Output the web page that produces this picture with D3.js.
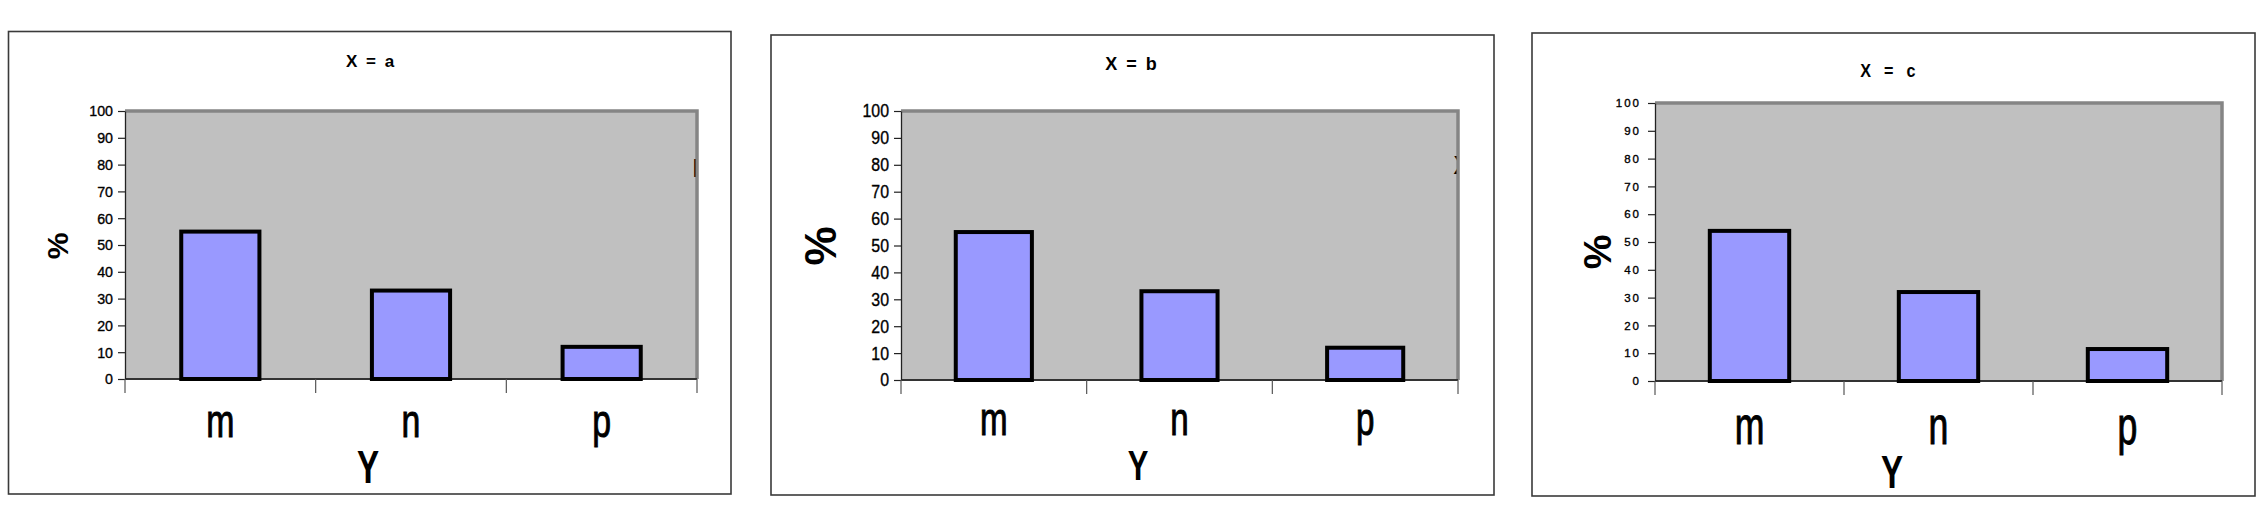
<!DOCTYPE html>
<html><head><meta charset="utf-8">
<script src="https://cdn.jsdelivr.net/npm/d3@7"></script>
<style>body{margin:0;background:#fff;} svg{display:block;}</style>
</head><body>
<svg id="chart" width="2264" height="531"></svg>
<script>
// ---- data ----
const categories = ["m", "n", "p"];
const panelTitles = ["X = a", "X = b", "X = c"];
const valuesA = [55, 33, 12];
const valuesB = [55, 33, 12];
const valuesC = [54, 32, 11.5];
const yTickValues = [0, 10, 20, 30, 40, 50, 60, 70, 80, 90, 100];
const yAxisTitle = "%";
const xAxisTitle = "Y";
const fragments = ["L", "X", null];
const seriesByPanel = [valuesA, valuesB, valuesC];

// ---- layout (positions / styles only) ----
const layouts = [
  {frame:[8.5,31.5,731,494], plot:[125,697,111,379], pad:0.59,
   title:{x:371,y:67,size:17,ls:2,sx:1},
   tick:{size:15.5,sx:0.92,ls:0},
   pct:{x:57,y:246,size:30},
   cat:{y:437,size:47,sx:0.72},
   ytitle:{x:368,y:483,size:46,sx:0.72}},
  {frame:[771,35,1494,495], plot:[901,1458,111,380], pad:0.59,
   title:{x:1132,y:70,size:18,ls:2,sx:1},
   tick:{size:18.5,sx:0.86,ls:0},
   pct:{x:820,y:246,size:44},
   cat:{y:435,size:46,sx:0.72},
   ytitle:{x:1138,y:480,size:43,sx:0.72}},
  {frame:[1532,33,2255,496], plot:[1655,2222,103,381], pad:0.58,
   title:{x:1890,y:77,size:19,ls:5,sx:0.85},
   tick:{size:11.5,sx:1,ls:2},
   pct:{x:1597,y:252,size:39},
   cat:{y:444,size:51,sx:0.7},
   ytitle:{x:1892,y:488,size:46,sx:0.72}}
];

const FONT = "'Liberation Sans', Arial, sans-serif";
const svg = d3.select("#chart");
svg.append("rect").attr("width",2264).attr("height",531).attr("fill","#fff");
const defs = svg.append("defs");

layouts.forEach((L, i) => {
  const g = svg.append("g");
  const [fx0, fy0, fx1, fy1] = L.frame;
  g.append("rect").attr("x", fx0).attr("y", fy0)
    .attr("width", fx1 - fx0).attr("height", fy1 - fy0)
    .attr("fill", "#fff").attr("stroke", "#3a3a3a").attr("stroke-width", 1.6);

  const [pl, pr, pt, pb] = L.plot;
  const x = d3.scaleBand().domain(categories).range([pl, pr])
    .paddingInner(L.pad).paddingOuter(L.pad / 2);
  const y = d3.scaleLinear().domain([0, 100]).range([pb, pt]);

  // plot area
  g.append("rect").attr("x", pl).attr("y", pt).attr("width", pr - pl).attr("height", pb - pt)
    .attr("fill", "#c0c0c0");
  g.append("path").attr("d", `M${pl},${pt}H${pr}V${pb}`)
    .attr("fill", "none").attr("stroke", "#858585").attr("stroke-width", 3.5);

  // clipped fragment of hidden text at right edge
  if (fragments[i]) {
    const cid = "clip" + i;
    defs.append("clipPath").attr("id", cid).append("rect")
      .attr("x", pr - 5).attr("y", pt).attr("width", 3.5).attr("height", pb - pt);
    g.append("text").attr("clip-path", `url(#${cid})`)
      .attr("x", pr - 4.5).attr("y", i === 0 ? 177 : 174)
      .attr("font-family", FONT).attr("font-weight", "bold").attr("font-size", 26)
      .attr("fill", "#000").text(fragments[i]);
  }

  // x axis line
  g.append("line").attr("x1", pl).attr("x2", pr).attr("y1", pb).attr("y2", pb)
    .attr("stroke", "#333").attr("stroke-width", 2);

  // bars
  g.selectAll("rect.bar")
    .data(categories.map((c, j) => ({c, v: seriesByPanel[i][j]})))
    .join("rect").attr("class", "bar")
    .attr("x", d => x(d.c)).attr("width", x.bandwidth())
    .attr("y", d => y(d.v)).attr("height", d => y(0) - y(d.v))
    .attr("fill", "#9999ff").attr("stroke", "#000").attr("stroke-width", 4);

  // y axis
  const ya = g.append("g").attr("transform", `translate(${pl},0)`)
    .call(d3.axisLeft(y).tickValues(yTickValues).tickSize(7).tickSizeOuter(0).tickPadding(5));
  ya.select(".domain").attr("stroke", "#222").attr("stroke-width", 1.3);
  ya.selectAll(".tick line").attr("stroke", "#222").attr("stroke-width", 1.2);
  ya.selectAll(".tick text")
    .attr("font-family", FONT).attr("font-size", L.tick.size).attr("fill", "#000")
    .attr("stroke", "#000").attr("stroke-width", 0.35)
    .attr("x", -(12 + L.tick.ls) / L.tick.sx)
    .attr("transform", `scale(${L.tick.sx},1)`)
    .style("letter-spacing", L.tick.ls + "px");

  // category separators
  const edges = d3.range(categories.length + 1).map(k => pl + k * x.step());
  g.selectAll("line.sep").data(edges).join("line").attr("class", "sep")
    .attr("x1", d => d).attr("x2", d => d).attr("y1", pb).attr("y2", pb + 14)
    .attr("stroke", "#555").attr("stroke-width", 1.2);

  // category labels
  g.selectAll("text.cat").data(categories).join("text").attr("class", "cat")
    .attr("transform", d => `translate(${x(d) + x.bandwidth() / 2},${L.cat.y}) scale(${L.cat.sx},1)`)
    .attr("text-anchor", "middle").attr("font-family", FONT)
    .attr("font-size", L.cat.size).attr("fill", "#000")
    .attr("stroke", "#000").attr("stroke-width", 1).text(d => d);

  // x axis title
  g.append("text")
    .attr("transform", `translate(${L.ytitle.x},${L.ytitle.y}) scale(${L.ytitle.sx},1)`)
    .attr("text-anchor", "middle").attr("font-family", FONT).attr("font-weight", "bold")
    .attr("font-size", L.ytitle.size).attr("fill", "#000").text(xAxisTitle);

  // y axis title
  g.append("text")
    .attr("transform", `translate(${L.pct.x},${L.pct.y}) rotate(-90)`)
    .attr("text-anchor", "middle").attr("dominant-baseline", "central")
    .attr("font-family", FONT).attr("font-weight", "bold")
    .attr("font-size", L.pct.size).attr("fill", "#000").text(yAxisTitle);

  // title
  g.append("text")
    .attr("transform", `translate(${L.title.x},${L.title.y}) scale(${L.title.sx},1)`)
    .attr("text-anchor", "middle").attr("font-family", FONT).attr("font-weight", "bold")
    .attr("font-size", L.title.size).attr("fill", "#000")
    .style("letter-spacing", L.title.ls + "px").text(panelTitles[i]);
});
</script>
</body></html>
